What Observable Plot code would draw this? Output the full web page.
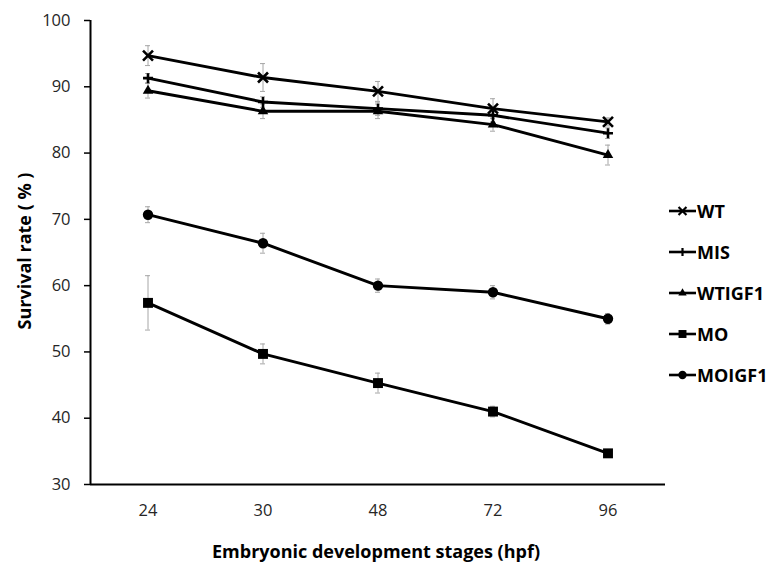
<!DOCTYPE html>
<html><head><meta charset="utf-8">
<script src="https://cdn.jsdelivr.net/npm/d3@7"></script>
<script src="https://cdn.jsdelivr.net/npm/@observablehq/plot@0.6"></script>
<style>
body{margin:0;background:#fff;font-family:"Open Sans",sans-serif}
#wrap{position:relative;width:772px;height:564px;overflow:hidden}
.title{position:absolute;font-weight:700;font-size:18px;color:#000;white-space:nowrap}
.leg{position:absolute;display:flex;align-items:center;font-weight:700;font-size:18px;color:#000}
</style></head><body>
<div id="wrap"><div id="chart"></div></div>
<script>
const stages = ["24","30","48","72","96"];
const groups = ["WT","MIS","WTIGF1","MO","MOIGF1"];
const wtValues     = [94.7, 91.4, 89.3, 86.7, 84.7];
const misValues    = [91.3, 87.7, 86.7, 85.7, 83.0];
const wtigf1Values = [89.4, 86.3, 86.3, 84.3, 79.7];
const moValues     = [57.4, 49.7, 45.3, 41.0, 34.7];
const moigf1Values = [70.7, 66.4, 60.0, 59.0, 55.0];
const wtErr     = [1.5, 2.1, 1.5, 1.5, 0.6];
const misErr    = [0.7, 0.8, 1.0, 1.0, 0.8];
const wtigf1Err = [1.1, 1.1, 1.1, 1.0, 1.5];
const moErr     = [4.1, 1.5, 1.5, 0.8, 0.5];
const moigf1Err = [1.2, 1.5, 1.0, 1.0, 0.8];
const yTicks = [30, 40, 50, 60, 70, 80, 90, 100];

const valuesBy = {WT: wtValues, MIS: misValues, WTIGF1: wtigf1Values, MO: moValues, MOIGF1: moigf1Values};
const errBy = {WT: wtErr, MIS: misErr, WTIGF1: wtigf1Err, MO: moErr, MOIGF1: moigf1Err};
const symbolBy = {WT: d3.symbolTimes, MIS: d3.symbolPlus, WTIGF1: d3.symbolTriangle, MO: d3.symbolSquare, MOIGF1: d3.symbolCircle};
const rBy = {WT: 4.6, MIS: 3.3, WTIGF1: 3.9, MO: 5.6, MOIGF1: 5.2};
const strokeSym = {WT: true, MIS: true};

const rows = groups.flatMap(g => stages.map((s, i) => ({
  group: g, stage: s, value: valuesBy[g][i], err: errBy[g][i],
  lo: valuesBy[g][i] - errBy[g][i], hi: valuesBy[g][i] + errBy[g][i]
})));

const W = 772, ML = 90, MR = 107;
const bandHalf = (W - ML - MR) / stages.length / 2;
const capInset = bandHalf - 2.5;

const marks = [
  Plot.ruleX(rows, {x: "stage", y1: "lo", y2: "hi", stroke: "#a6a6a6", strokeWidth: 1}),
  Plot.tickY(rows, {x: "stage", y: "lo", stroke: "#a6a6a6", strokeWidth: 1, insetLeft: capInset, insetRight: capInset}),
  Plot.tickY(rows, {x: "stage", y: "hi", stroke: "#a6a6a6", strokeWidth: 1, insetLeft: capInset, insetRight: capInset}),
  Plot.ruleY([30], {stroke: "#000", strokeWidth: 2}),
  Plot.line(rows, {x: "stage", y: "value", z: "group", stroke: "#000", strokeWidth: 2.9}),
  ...groups.map(g => Plot.dot(rows.filter(d => d.group === g), {
    x: "stage", y: "value", symbol: symbolBy[g], r: rBy[g],
    fill: strokeSym[g] ? "none" : "#000",
    stroke: strokeSym[g] ? "#000" : "none",
    strokeWidth: strokeSym[g] ? 2.6 : 0
  })),
  Plot.ruleX([0], {x: () => stages[0], dx: -bandHalf, y1: 30, y2: 100, stroke: "#000", strokeWidth: 2}),
  Plot.axisY({ticks: yTicks, tickSize: 6, tickPadding: 14, fontSize: 16.5, label: null, stroke: "#000", strokeWidth: 1.5}),
  Plot.axisX({tickSize: 0, tickPadding: 20, fontSize: 16.5, label: null})
];

const chart = Plot.plot({
  width: W, height: 564,
  marginLeft: ML, marginRight: MR, marginTop: 20, marginBottom: 80,
  style: {fontFamily: "'Open Sans', sans-serif", color: "#262626", background: "#fff"},
  x: {type: "band", domain: stages, padding: 0},
  y: {domain: [30, 100]},
  marks
});
document.getElementById("chart").appendChild(chart);

const wrap = document.getElementById("wrap");
const yt = document.createElement("div");
yt.className = "title";
yt.textContent = "Survival rate ( % )";
yt.style.left = "24px"; yt.style.top = "251px";
yt.style.transform = "translate(-50%,-50%) rotate(-90deg)";
wrap.appendChild(yt);
const xt = document.createElement("div");
xt.className = "title";
xt.textContent = "Embryonic development stages (hpf)";
xt.style.left = "376px"; xt.style.top = "551px";
xt.style.transform = "translate(-50%,-50%)";
wrap.appendChild(xt);

groups.forEach((g, i) => {
  const item = document.createElement("div");
  item.className = "leg";
  item.style.left = "668px";
  item.style.top = (201 + i * 41) + "px";
  item.style.height = "20px";
  const svg = d3.create("svg").attr("width", 29).attr("height", 20);
  svg.append("line").attr("x1", 1).attr("x2", 28).attr("y1", 10).attr("y2", 10).attr("stroke", "#000").attr("stroke-width", 2.6);
  const size = Math.PI * Math.pow(rBy[g] * 0.8, 2);
  svg.append("path").attr("d", d3.symbol(symbolBy[g], size)()).attr("transform", "translate(14.5,10)")
    .attr("fill", strokeSym[g] ? "none" : "#000").attr("stroke", strokeSym[g] ? "#000" : "none").attr("stroke-width", 2.2);
  item.appendChild(svg.node());
  const t = document.createElement("span");
  t.textContent = g; t.style.marginLeft = "0px";
  item.appendChild(t);
  wrap.appendChild(item);
});
</script>
</body></html>
